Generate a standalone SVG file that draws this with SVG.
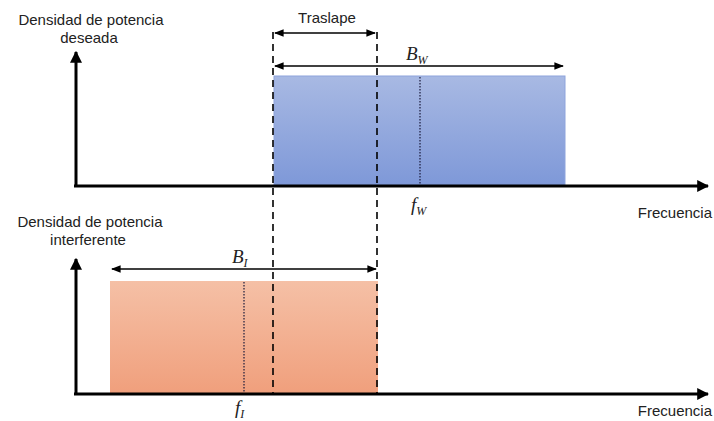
<svg xmlns="http://www.w3.org/2000/svg" width="714" height="421" viewBox="0 0 714 421">
<style>
.lbl{font-family:"Liberation Sans",Arial,sans-serif;font-size:15px;fill:#222}
.math{font-family:"Liberation Serif","Times New Roman",serif;font-style:italic;font-size:19px;fill:#222}
.sub{font-size:12px}
.axis{stroke:#000;stroke-width:3;fill:none}
.dim{stroke:#000;stroke-width:1.6;fill:none}
.dash{stroke:#000;stroke-width:1.6;stroke-dasharray:7,5;fill:none}
.dot{stroke:#1a1a3a;stroke-width:1.2;stroke-dasharray:1.5,1.5;fill:none}
</style>
<defs>
<linearGradient id="gb" x1="0" y1="0" x2="0" y2="1"><stop offset="0" stop-color="#a8b9e3"/><stop offset="1" stop-color="#7e98d8"/></linearGradient>
<linearGradient id="go" x1="0" y1="0" x2="0" y2="1"><stop offset="0" stop-color="#f5c0a6"/><stop offset="1" stop-color="#f09f7c"/></linearGradient>
<marker id="ah" viewBox="0 0 10 10" refX="9" refY="5" markerWidth="4" markerHeight="4" orient="auto-start-reverse" markerUnits="strokeWidth"><path d="M0,0 L10,5 L0,10 z" fill="#000"/></marker>
<marker id="as" viewBox="0 0 10 10" refX="9" refY="5" markerWidth="6" markerHeight="6" orient="auto-start-reverse" markerUnits="strokeWidth"><path d="M0,1 L10,5 L0,9 z" fill="#000"/></marker>
</defs>
<g id="band-w">
<rect x="274" y="76" width="291" height="110" fill="url(#gb)" stroke="#8ea4dc" stroke-width="1"/>
<line class="dot" x1="420" y1="77" x2="420" y2="185"/>
</g>
<g id="band-i">
<rect x="110" y="281" width="268" height="113" fill="url(#go)"/>
<line class="dot" x1="244" y1="282" x2="244" y2="393"/>
</g>
<g id="axes">
<line class="axis" x1="76" y1="187" x2="76" y2="52" marker-end="url(#ah)"/>
<line class="axis" x1="74" y1="186" x2="708" y2="186" marker-end="url(#ah)"/>
<line class="axis" x1="76" y1="395" x2="76" y2="259" marker-end="url(#ah)"/>
<line class="axis" x1="74" y1="394" x2="708" y2="394" marker-end="url(#ah)"/>
</g>
<g id="connectors">
<line class="dash" x1="273" y1="32" x2="273" y2="394"/>
<line class="dash" x1="377" y1="32" x2="377" y2="394"/>
<line class="dim" x1="275" y1="33" x2="375" y2="33" marker-start="url(#as)" marker-end="url(#as)"/>
<line class="dim" x1="275" y1="66" x2="563" y2="66" marker-start="url(#as)" marker-end="url(#as)"/>
<line class="dim" x1="112" y1="269" x2="376" y2="269" marker-start="url(#as)" marker-end="url(#as)"/>
</g>
<g id="labels">
<text class="lbl" x="91" y="25" text-anchor="middle">Densidad de potencia</text>
<text class="lbl" x="89" y="43" text-anchor="middle">deseada</text>
<text class="lbl" x="327" y="23" text-anchor="middle">Traslape</text>
<text class="math" x="406" y="60">B<tspan class="sub" dy="4">W</tspan></text>
<text class="math" x="411" y="211">f<tspan class="sub" dy="4">W</tspan></text>
<text class="lbl" x="712" y="218" text-anchor="end">Frecuencia</text>
<text class="lbl" x="90" y="227" text-anchor="middle">Densidad de potencia</text>
<text class="lbl" x="88" y="245" text-anchor="middle">interferente</text>
<text class="math" x="232" y="263">B<tspan class="sub" dy="4">I</tspan></text>
<text class="math" x="235" y="414">f<tspan class="sub" dy="4">I</tspan></text>
<text class="lbl" x="712" y="416" text-anchor="end">Frecuencia</text>
</g>
</svg>
